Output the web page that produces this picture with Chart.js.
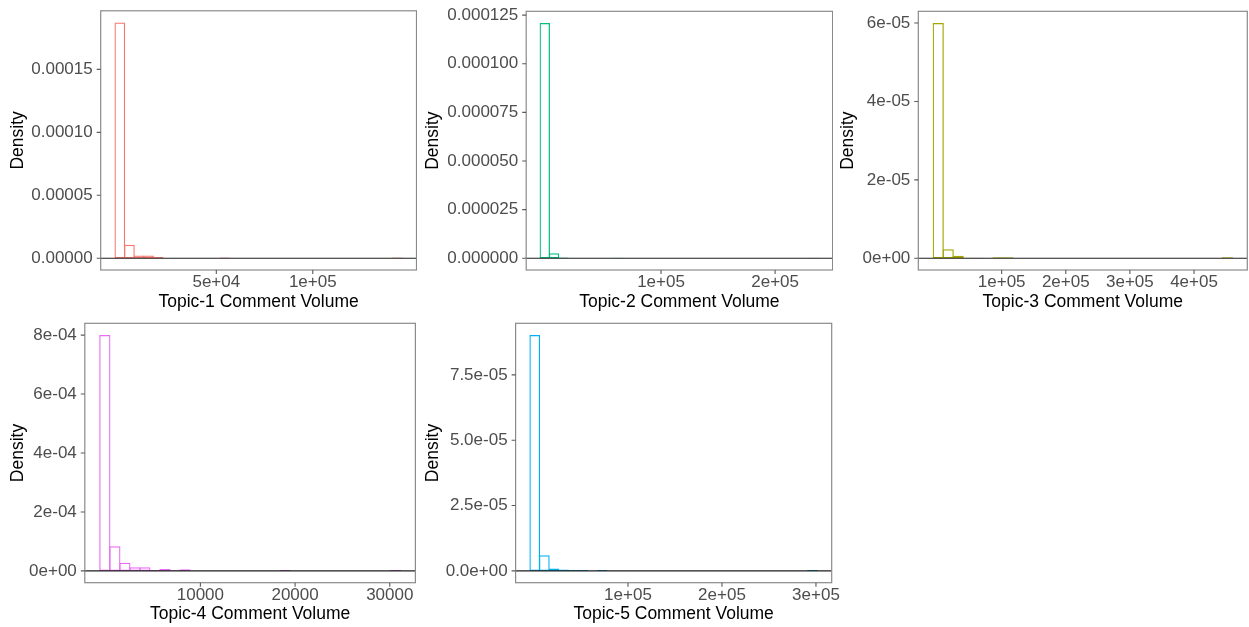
<!DOCTYPE html>
<html><head><meta charset="utf-8">
<script src="https://cdn.jsdelivr.net/npm/chart.js@4/dist/chart.umd.min.js"></script>
<style>
html,body{margin:0;padding:0;background:#fff;width:1249px;height:627px;overflow:hidden}
.cell{position:absolute}
</style></head><body>
<div class="cell" id="c1"><canvas id="p1"></canvas></div>
<div class="cell" id="c2"><canvas id="p2"></canvas></div>
<div class="cell" id="c3"><canvas id="p3"></canvas></div>
<div class="cell" id="c4"><canvas id="p4"></canvas></div>
<div class="cell" id="c5"><canvas id="p5"></canvas></div>
<script>
// ---------- DATA ----------
const topicTitles = ['Topic-1 Comment Volume','Topic-2 Comment Volume','Topic-3 Comment Volume','Topic-4 Comment Volume','Topic-5 Comment Volume'];
// histogram bins (30 bins each): left edge of the first bin and bin width
const binStarts = [-2480, -6000, -6700, -620, -4250];
const binWidths = [4960, 8140, 15550, 1058, 10190];

const t1Density = [1.872e-4, 1.07e-5, 2.1e-6, 2.1e-6, 0.9e-6, 0, 0, 0, 0, 0, 0, 0.6e-6, 0, 0, 0, 0, 0, 0, 0, 0, 0, 0, 0, 0, 0, 0, 0, 0, 0, 0.6e-6];
const t2Density = [1.209e-4, 2.6e-6, 0.4e-6, 0, 0, 0, 0, 0, 0.3e-6, 0, 0, 0, 0, 0, 0, 0, 0, 0, 0, 0, 0, 0, 0, 0, 0, 0, 0, 0, 0, 0.3e-6];
const t3Density = [6.0e-5, 2.3e-6, 0.66e-6, 0.15e-6, 0.1e-6, 0, 0.25e-6, 0.25e-6, 0, 0, 0, 0, 0, 0, 0, 0, 0, 0, 0, 0, 0, 0, 0, 0, 0, 0, 0, 0, 0, 0.25e-6];
const t4Density = [8.0e-4, 8.35e-5, 2.8e-5, 1.2e-5, 1.2e-5, 0.35e-5, 0.65e-5, 0.2e-5, 0.55e-5, 0, 0, 0, 0, 0, 0, 0, 0, 0, 0.3e-5, 0, 0, 0, 0, 0, 0, 0, 0, 0, 0, 0.3e-5];
const t5Density = [9.02e-5, 5.98e-6, 0.88e-6, 0.5e-6, 0.35e-6, 0.35e-6, 0, 0.35e-6, 0, 0, 0, 0, 0, 0, 0, 0, 0, 0, 0, 0, 0, 0, 0, 0, 0, 0, 0, 0, 0, 0.35e-6];

const t1XTicks = [50000, 100000];          const t1XLabels = ['5e+04', '1e+05'];
const t2XTicks = [100000, 200000];         const t2XLabels = ['1e+05', '2e+05'];
const t3XTicks = [100000, 200000, 300000, 400000]; const t3XLabels = ['1e+05', '2e+05', '3e+05', '4e+05'];
const t4XTicks = [10000, 20000, 30000];    const t4XLabels = ['10000', '20000', '30000'];
const t5XTicks = [100000, 200000, 300000]; const t5XLabels = ['1e+05', '2e+05', '3e+05'];

const t1YTicks = [0, 5e-5, 1e-4, 1.5e-4];  const t1YLabels = ['0.00000', '0.00005', '0.00010', '0.00015'];
const t2YTicks = [0, 2.5e-5, 5e-5, 7.5e-5, 1e-4, 1.25e-4]; const t2YLabels = ['0.000000', '0.000025', '0.000050', '0.000075', '0.000100', '0.000125'];
const t3YTicks = [0, 2e-5, 4e-5, 6e-5];    const t3YLabels = ['0e+00', '2e-05', '4e-05', '6e-05'];
const t4YTicks = [0, 2e-4, 4e-4, 6e-4, 8e-4]; const t4YLabels = ['0e+00', '2e-04', '4e-04', '6e-04', '8e-04'];
const t5YTicks = [0, 2.5e-5, 5e-5, 7.5e-5]; const t5YLabels = ['0.0e+00', '2.5e-05', '5.0e-05', '7.5e-05'];

// ---------- STYLE / LAYOUT ----------
const COLORS = ['#F8766D', '#00BF7D', '#A3A500', '#E76BF3', '#00B0F6'];
const FONT = '"Liberation Sans", Arial, Helvetica, sans-serif';
const TICK_LEN = 4;
const LAYOUT = [
  {left: 0,   top: 0,   w: 417, h: 313, padTop: 10.8, padRight: 0.5,  yW: 100.7, xH: 43,   yTitlePad: 7.8, xTitlePad: 0},
  {left: 416, top: 0,   w: 417, h: 313, padTop: 11.3, padRight: 0.4,  yW: 110.2, xH: 43,   yTitlePad: 6.8, xTitlePad: 0},
  {left: 832, top: 0,   w: 417, h: 313, padTop: 11.3, padRight: 1.7,  yW: 86.3,  xH: 43,   yTitlePad: 5.8, xTitlePad: 0},
  {left: 0,   top: 313, w: 417, h: 314, padTop: 10.3, padRight: 1.6,  yW: 84.8,  xH: 44.3, yTitlePad: 7.8, xTitlePad: 2.5},
  {left: 416, top: 313, w: 440, h: 314, padTop: 10.3, padRight: 24.3, yW: 99.6,  xH: 44.3, yTitlePad: 6.8, xTitlePad: 2.5}
];

// panel frame, zero line and tick marks, all positioned through the chart's own scales
const panelFrame = {
  id: 'panelFrame',
  afterDatasetsDraw(chart) {
    const {ctx, chartArea: a} = chart;
    const xs = chart.scales.x, ys = chart.scales.y;
    const y0 = ys.getPixelForValue(0);
    ctx.save();
    ctx.strokeStyle = '#1e1e1e';
    ctx.lineWidth = 1.1;
    ctx.beginPath();
    ctx.moveTo(a.left, y0);
    ctx.lineTo(a.right, y0);
    ctx.stroke();
    ctx.strokeStyle = '#8a8a8a';
    ctx.lineWidth = 1.2;
    ctx.strokeRect(a.left, a.top, a.right - a.left, a.bottom - a.top);
    ctx.strokeStyle = '#5a5a5a';
    ctx.lineWidth = 1.1;
    ctx.beginPath();
    xs.ticks.forEach(t => {
      const px = xs.getPixelForValue(t.value);
      ctx.moveTo(px, a.bottom);
      ctx.lineTo(px, a.bottom + TICK_LEN);
    });
    ys.ticks.forEach(t => {
      const py = ys.getPixelForValue(t.value);
      ctx.moveTo(a.left - TICK_LEN, py);
      ctx.lineTo(a.left, py);
    });
    ctx.stroke();
    ctx.restore();
  }
};

function noEdgePadding(s) {
  s.paddingLeft = 0; s.paddingRight = 0; s.paddingTop = 0; s.paddingBottom = 0;
}

function makeHist(idx, density, xTicks, xLabels, yTicks, yLabels) {
  const L = LAYOUT[idx];
  const cell = document.getElementById('c' + (idx + 1));
  Object.assign(cell.style, {left: L.left + 'px', top: L.top + 'px', width: L.w + 'px', height: L.h + 'px'});
  const start = binStarts[idx], width = binWidths[idx], n = density.length;
  const data = density.map((d, i) => ({x: start + (i + 0.5) * width, y: d}));
  const yMax = Math.max(...density);
  new Chart(document.getElementById('p' + (idx + 1)), {
    type: 'bar',
    data: {datasets: [{
      data,
      borderColor: COLORS[idx],
      backgroundColor: 'rgba(255,255,255,0)',
      borderWidth: 1.25,
      borderSkipped: false,
      barPercentage: 1.12,
      categoryPercentage: 1,
      inflateAmount: 0
    }]},
    options: {
      responsive: true,
      maintainAspectRatio: false,
      animation: false,
      events: [],
      layout: {padding: {left: 0, top: L.padTop, right: L.padRight, bottom: 0}},
      plugins: {legend: {display: false}, tooltip: {enabled: false}},
      scales: {
        x: {
          type: 'linear',
          offset: false,
          min: start - 0.05 * n * width,
          max: start + 1.05 * n * width,
          afterBuildTicks: s => { s.ticks = xTicks.map(v => ({value: v})); },
          afterFit: s => { s.height = L.xH; noEdgePadding(s); },
          ticks: {autoSkip: false, maxRotation: 0, minRotation: 0, padding: 2,
                  callback: (v, i) => xLabels[i], color: '#4D4D4D', font: {family: FONT, size: 17}},
          grid: {display: false, drawTicks: false, offset: false},
          border: {display: false},
          title: {display: true, text: topicTitles[idx], color: '#000',
                  font: {family: FONT, size: 17.5}, padding: {top: 0, bottom: L.xTitlePad}}
        },
        y: {
          type: 'linear',
          min: -0.05 * yMax,
          max: 1.05 * yMax,
          afterBuildTicks: s => { s.ticks = yTicks.map(v => ({value: v})); },
          afterFit: s => { s.width = L.yW; noEdgePadding(s); },
          ticks: {autoSkip: false, padding: 8,
                  callback: (v, i) => yLabels[i], color: '#4D4D4D', font: {family: FONT, size: 17}},
          grid: {display: false, drawTicks: false},
          border: {display: false},
          title: {display: true, text: 'Density', color: '#000',
                  font: {family: FONT, size: 17.5}, padding: {top: L.yTitlePad, bottom: 0}}
        }
      }
    },
    plugins: [panelFrame]
  });
}

makeHist(0, t1Density, t1XTicks, t1XLabels, t1YTicks, t1YLabels);
makeHist(1, t2Density, t2XTicks, t2XLabels, t2YTicks, t2YLabels);
makeHist(2, t3Density, t3XTicks, t3XLabels, t3YTicks, t3YLabels);
makeHist(3, t4Density, t4XTicks, t4XLabels, t4YTicks, t4YLabels);
makeHist(4, t5Density, t5XTicks, t5XLabels, t5YTicks, t5YLabels);
</script>
</body></html>
